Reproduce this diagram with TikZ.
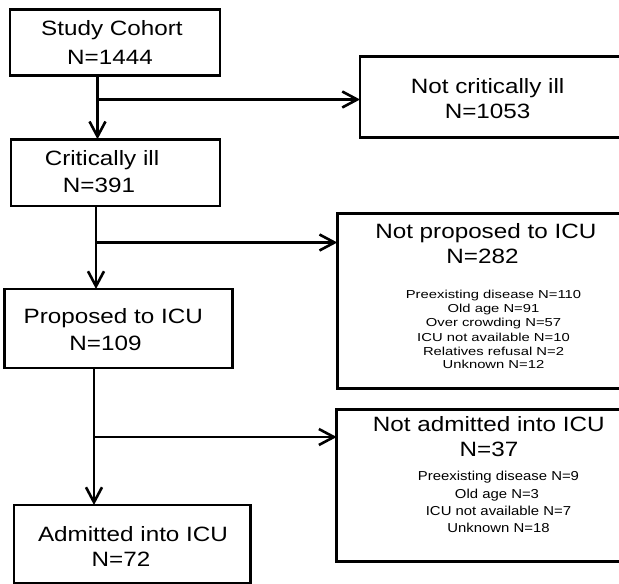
\documentclass[tikz,border=0pt]{standalone}
\usepackage{fontspec}
\newfontfamily\titlefont[FakeStretch=1.17]{Liberation Sans}
\newfontfamily\smallAfont[FakeStretch=1.28]{Liberation Sans}
\newfontfamily\smallBfont[FakeStretch=1.15]{Liberation Sans}
\usetikzlibrary{arrows.meta}
\begin{document}
\begin{tikzpicture}[x=1bp,y=-1bp,
  box/.style={draw, line width=2.8bp, rectangle, inner sep=0pt, outer sep=0pt},
  ttl/.style={anchor=base, inner sep=0pt, font=\titlefont\fontsize{20.8}{25}\selectfont},
  sma/.style={anchor=base, inner sep=0pt, font=\smallAfont\fontsize{11.6}{14}\selectfont},
  smb/.style={anchor=base, inner sep=0pt, font=\smallBfont\fontsize{13}{17}\selectfont},
  conn/.style={line width=2.6bp},
  arr/.style={conn, -{Straight Barb[length=15bp,width=16bp]}}]
\useasboundingbox (0,0) rectangle (619,584);
\clip (0,0) rectangle (619,584);

% boxes
\node[box, minimum width=210bp, minimum height=66bp] (b1) at (115,42.4) {};
\node[box, minimum width=280bp, minimum height=80.6bp] (b2) at (500,97) {};
\node[box, minimum width=209bp, minimum height=66.7bp] (b3) at (115.5,172.6) {};
\node[box, minimum width=228.4bp, minimum height=79bp] (b4) at (118.5,328.5) {};
\node[box, minimum width=302.7bp, minimum height=175bp] (b5) at (488.6,300.8) {};
\node[box, minimum width=236.7bp, minimum height=78bp] (b6) at (132.3,544) {};
\node[box, minimum width=303.3bp, minimum height=152.4bp] (b7) at (488.3,485.5) {};

% texts
\node[ttl] (t1a) at (112,35.3) {Study Cohort};
\node[ttl] (t1b) at (110,64.3) {N=1444};
\node[ttl] (t2a) at (487.6,93.3) {Not critically ill};
\node[ttl] (t2b) at (487.6,118.3) {N=1053};
\node[ttl] (t3a) at (102,166) {Critically ill};
\node[ttl] (t3b) at (99,192.7) {N=391};
\node[ttl] (t4a) at (113.3,323.3) {Proposed to ICU};
\node[ttl] (t4b) at (105.5,350.7) {N=109};
\node[ttl] (t5a) at (485.8,238.3) {Not proposed to ICU};
\node[ttl] (t5b) at (482.5,263.3) {N=282};
\node[sma] (s51) at (493.5,298.3) {Preexisting disease N=110};
\node[sma] (s52) at (493.5,312.7) {Old age N=91};
\node[sma] (s53) at (493.5,326.7) {Over crowding N=57};
\node[sma] (s54) at (493.5,341) {ICU not available N=10};
\node[sma] (s55) at (493.5,355) {Relatives refusal N=2};
\node[sma] (s56) at (493.5,368.3) {Unknown N=12};
\node[ttl] (t6a) at (133,541.7) {Admitted into ICU};
\node[ttl] (t6b) at (121,566.7) {N=72};
\node[ttl] (t7a) at (488.8,431.7) {Not admitted into ICU};
\node[ttl] (t7b) at (489,456.7) {N=37};
\node[smb] (s71) at (498.5,480) {Preexisting disease N=9};
\node[smb] (s72) at (497,498.3) {Old age N=3};
\node[smb] (s73) at (498.5,515.7) {ICU not available N=7};
\node[smb] (s74) at (498.5,532.7) {Unknown N=18};

% connectors
\coordinate (j1) at (97.5,99.5);
\coordinate (j2) at (96,242.5);
\coordinate (j3) at (94,437);
\draw[arr] (b1.south -| j1) -- (b3.north -| j1);
\draw[arr] (j1) -- (b2.west |- j1);
\draw[arr] (b3.south -| j2) -- (b4.north -| j2);
\draw[arr] (j2) -- (b5.west |- j2);
\draw[arr] (b4.south -| j3) -- (b6.north -| j3);
\draw[arr] (j3) -- (b7.west |- j3);
\end{tikzpicture}
\end{document}
